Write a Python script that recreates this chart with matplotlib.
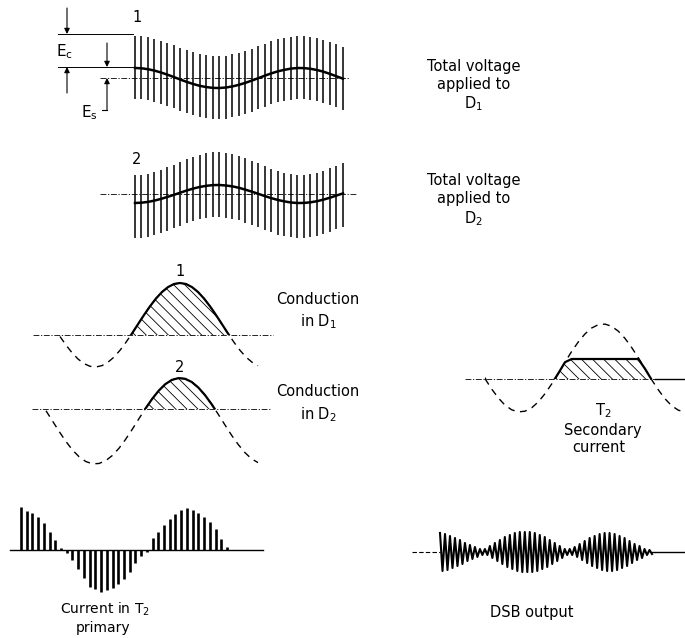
import numpy as np
import matplotlib.pyplot as plt
from matplotlib.patches import Rectangle

plt.rcParams["font.family"] = "DejaVu Sans"
plt.rcParams["mathtext.default"] = "regular"
plt.rcParams["hatch.linewidth"] = 0.6

# waveform values, px relative to each panel's zero line (positive = up)
# total voltage on D1: carrier tips and the signal
TOP1 = [42, 41.7, 40.8, 39.4, 37.5, 35.3, 32.9, 30.4, 28, 25.9, 24.1, 22.9, 22.1, 22, 22.5, 23.6, 25.2,
        27.2, 29.5, 31.9, 34.4, 36.7, 38.7, 40.2, 41.4, 42, 41.9, 41.2, 40, 38.3, 36.1, 33.7, 31.3]
BOT1 = [-21, -21.3, -22.2, -23.6, -25.5, -27.7, -30.1, -32.6, -35, -37.1, -38.9, -40.1, -40.9, -41, -40.5,
        -39.4, -37.8, -35.8, -33.5, -31.1, -28.6, -26.3, -24.3, -22.8, -21.6, -21, -21.1, -21.8, -23, -24.7,
        -26.9, -29.3, -31.7]
MID1 = [10, 9.7, 8.8, 7.4, 5.5, 3.3, 0.9, -1.6, -4.0, -6.1, -7.9, -9.1, -9.9, -10.0, -9.5, -8.4, -6.8,
        -4.8, -2.5, -0.1, 2.4, 4.7, 6.7, 8.2, 9.4, 10.0, 9.9, 9.2, 8.0, 6.3, 4.1, 1.7, -0.7]
# total voltage on D2
TOP2 = [19, 19.4, 20.4, 22, 24.2, 26.7, 29.5, 32.4, 35.1, 37.5, 39.5, 41, 41.8, 42, 41.4, 40.2, 38.4,
        36, 33.4, 30.6, 27.8, 25.1, 22.8, 21, 19.7, 19.1, 19.1, 19.9, 21.3, 23.3, 25.8, 28.5, 31.3]
BOT2 = [-44, -43.7, -42.7, -41.2, -39.3, -36.9, -34.4, -31.8, -29.3, -27.1, -25.2, -23.9, -23.2, -23,
        -23.5, -24.6, -26.3, -28.5, -30.8, -33.4, -36, -38.4, -40.5, -42.2, -43.4, -43.9, -43.9, -43.2,
        -41.9, -40.1, -37.8, -35.3, -32.8]
MID2 = [-9, -8.7, -7.9, -6.6, -4.9, -2.9, -0.8, 1.4, 3.6, 5.5, 7.1, 8.2, 8.9, 9.0, 8.5, 7.6, 6.2, 4.3,
        2.3, 0.1, -2.1, -4.2, -6.0, -7.4, -8.5, -9.0, -8.9, -8.3, -7.2, -5.6, -3.7, -1.5, 0.6]

# conduction curves
COND1 = [-1.5, -10.1, -17.7, -24, -28.6, -31.3, -32, -30.6, -27.2, -22.1, -15.3, -7.3, 1.5, 10.8, 20,
         28.7, 36.5, 43, 47.9, 51, 52, 51, 47.9, 43, 36.5, 28.7, 20, 10.8, 1.5, -7.3, -15.3, -22.1,
         -27.2, -30.6]
COND2 = [-1.75, -12.2, -22.6, -32.4, -41.0, -47.8, -52.5, -54.8, -54.5, -51.7, -46.6, -39.4, -30.5,
         -20.5, -10.0, 0.3, 9.9, 18.2, 24.8, 29.1, 30.9, 30.2, 27.0, 21.4, 13.9, 4.8, -5.3, -15.8, -26.1,
         -35.4, -43.4, -49.7, -53.6]
SEC = [0.3, -10.0, -19.0, -26.1, -30.8, -32.9, -32.2, -28.8, -22.9, -14.7, -5.0, 5.7, 16.8, 27.6, 37.1,
       45.1, 51.0, 54.3, 54.9, 52.7, 47.8, 40.6, 31.5, 21.2, 10.2, -0.75, -10.9, -19.8, -26.7, -31.2, -33.0]
SEC_CLIP = 20

# T2 primary current samples
PRIM = [43, 39, 37, 33, 27, 18, 10, 2, -3, -10, -19, -28, -37, -39, -42, -40, -38, -34, -29, -22, -13,
        -6, -2, 12, 18, 25, 31, 36, 40, 42, 40, 37, 33, 28, 21, 11, 3]

# DSB output, peak amplitude of each carrier cycle
DSB_AMP = [19, 18, 16, 14, 12, 9, 7, 5, 3,
           3, 6, 9, 12, 15, 17, 19, 20, 20, 20, 19, 17, 15, 12, 9, 6, 3,
           3, 5, 8, 11, 14, 16, 18, 19, 19, 18, 16, 14, 11, 8, 6, 3, 2]

DASH = (0, (5, 4))
DASHDOT = (0, (7, 2, 1.5, 2))


def burst(ax, top, bot, mid, x0, x1, base):
    x = np.linspace(x0, x1, len(top))
    ax.vlines(x, base - np.array(top), base - np.array(bot), color="k", lw=1.1)
    ax.plot(x, base - np.array(mid), color="k", lw=1.8)


def lobe(ax, vals, x0, x1, base, clip=None):
    v = np.array(vals, float)
    x = np.linspace(x0, x1, len(v))
    ax.plot(x, base - v, color="k", lw=1.0, ls=DASH)
    top = v if clip is None else np.minimum(v, clip)
    ax.fill_between(x, base, base - top, where=top > 0, interpolate=True,
                    facecolor="none", edgecolor="k", hatch="\\\\\\", lw=0)
    ln, = ax.plot(x, base - top, color="k", lw=1.6)
    ln.set_clip_path(Rectangle((x0, 0), x1 - x0, base, transform=ax.transData))


fig = plt.figure(figsize=(6.85, 6.38), dpi=100)
ax = fig.add_axes([0, 0, 1, 1])
ax.set_xlim(0, 685)
ax.set_ylim(638, 0)
ax.axis("off")

kw = dict(ha="center", va="center", fontsize=10.5)

# --- panel 1 ---
ax.plot([100, 350], [78, 78], color="k", lw=0.6, ls=DASHDOT)
burst(ax, TOP1, BOT1, MID1, 135, 343, 78)
ax.text(137, 18, "1", **kw)
ax.plot([58, 133], [34, 34], color="k", lw=0.7)
ax.plot([58, 133], [67, 67], color="k", lw=0.7)
arr = dict(arrowstyle="-|>", color="k", lw=0.8, mutation_scale=8, shrinkA=0, shrinkB=0)
ax.annotate("", xy=(67, 34), xytext=(67, 8), arrowprops=arr)
ax.annotate("", xy=(67, 67), xytext=(67, 93), arrowprops=arr)
ax.annotate("", xy=(107, 67), xytext=(107, 43), arrowprops=arr)
ax.annotate("", xy=(107, 78), xytext=(107, 110), arrowprops=arr)
ax.plot([102, 107], [110, 110], color="k", lw=0.8)
ax.text(65, 52, "E$_c$", fontsize=11, ha="center", va="center")
ax.text(89, 113, "E$_s$", fontsize=11, ha="center", va="center")
ax.text(474, 66, "Total voltage", **kw)
ax.text(474, 84, "applied to", **kw)
ax.text(473, 104, "D$_1$", **kw)

# --- panel 2 ---
ax.plot([100, 357], [194, 194], color="k", lw=0.6, ls=DASHDOT)
burst(ax, TOP2, BOT2, MID2, 135, 343, 194)
ax.text(137, 160, "2", **kw)
ax.text(474, 180, "Total voltage", **kw)
ax.text(474, 198, "applied to", **kw)
ax.text(473, 219, "D$_2$", **kw)

# --- conduction in D1 / D2 ---
ax.plot([33, 273], [335, 335], color="k", lw=0.6, ls=DASHDOT)
lobe(ax, COND1, 60, 258, 335)
ax.text(180, 271, "1", **kw)
ax.text(318, 299, "Conduction", **kw)
ax.text(318, 322, "in D$_1$", **kw)

ax.plot([32, 270], [409, 409], color="k", lw=0.6, ls=DASHDOT)
lobe(ax, COND2, 46, 258, 409)
ax.text(180, 368, "2", **kw)
ax.text(318, 392, "Conduction", **kw)
ax.text(318, 415, "in D$_2$", **kw)

# --- T2 secondary current ---
ax.plot([465, 655], [379, 379], color="k", lw=0.6, ls=DASHDOT)
ax.plot([655, 685], [379, 379], color="k", lw=1.0)
lobe(ax, SEC, 485, 685, 379, clip=SEC_CLIP)
ax.text(603, 411, "T$_2$", **kw)
ax.text(603, 431, "Secondary", **kw)
ax.text(599, 447, "current", **kw)

# --- current in T2 primary ---
ax.plot([10, 263], [550, 550], color="k", lw=1.0)
xp = np.linspace(21, 227, len(PRIM))
ax.vlines(xp, 550, 550 - np.array(PRIM), color="k", lw=1.9)
ax.text(105, 609, "Current in T$_2$", ha="center", va="center", fontsize=10)
ax.text(103, 628, "primary", ha="center", va="center", fontsize=10)

# --- DSB output ---
ax.plot([412, 440], [552, 552], color="k", lw=0.8, ls=(0, (4, 2)))
ax.plot([652, 685], [552, 552], color="k", lw=1.0)
amp = np.repeat(np.array(DSB_AMP, float), 2)
amp[1::2] *= -1
xd = np.linspace(440, 652, len(amp))
ax.plot(xd, 552 - amp, color="k", lw=1.5)
ax.text(532, 612, "DSB output", **kw)

fig.savefig("out.png", dpi=100)
